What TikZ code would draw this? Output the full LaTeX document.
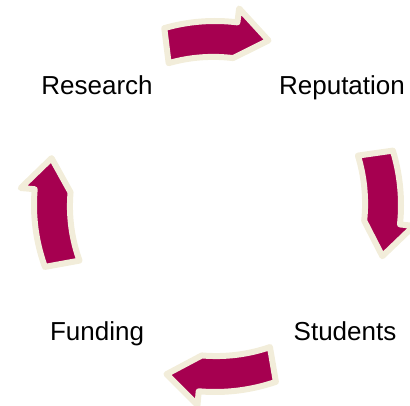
\documentclass[tikz,border=0pt]{standalone}
\usepackage{fontspec}
\setmainfont{Liberation Sans}
\usepackage{tikz}
\usetikzlibrary{calc}

\definecolor{cyclefill}{RGB}{166,0,80}
\definecolor{cycleedge}{RGB}{242,237,218}

\tikzset{
  cyclelabel/.style={anchor=base, inner sep=0pt, font=\fontsize{26}{28}\selectfont},
  cyclearrow/.style={fill=cyclefill, draw=cycleedge, line width=6pt, line join=round}
}

% curved block arrow around (hub): start angle, tip angle, radius
\newcommand{\cyclearrow}[3]{
  \pgfmathsetmacro{\headang}{#2 + (#1 > #2 ? 11 : -11)}
  \pgfmathsetmacro{\ro}{#3 + 11}
  \pgfmathsetmacro{\ri}{#3 - 11}
  \pgfmathsetmacro{\hro}{#3 + 25}
  \pgfmathsetmacro{\hri}{#3 - 25}
  \draw[cyclearrow, shift={(hub)}]
    (#1:\ro) arc[start angle=#1, end angle=\headang, radius=\ro pt]
    -- (\headang:\hro) -- (#2:#3) -- (\headang:\hri)
    arc[start angle=\headang, end angle=#1, radius=\ri pt] -- cycle;
}

\begin{document}
\begin{tikzpicture}[x=1pt, y=1pt]
      \useasboundingbox (0,0) rectangle (410,405);
      \coordinate (hub) at (215, 200);

      \node [cyclelabel] (research) at (97, 310) {Research};
      \node [cyclelabel] (reputation) at (342, 310) {Reputation};
      \node [cyclelabel] (students) at (345, 65) {Students};
      \node [cyclelabel] (funding) at (97, 65) {Funding};

      \cyclearrow{106}{72}{173}
      \cyclearrow{17}{-17}{175}
      \cyclearrow{-71}{-106}{176}
      \cyclearrow{200}{164}{170}
\end{tikzpicture}
\end{document}
